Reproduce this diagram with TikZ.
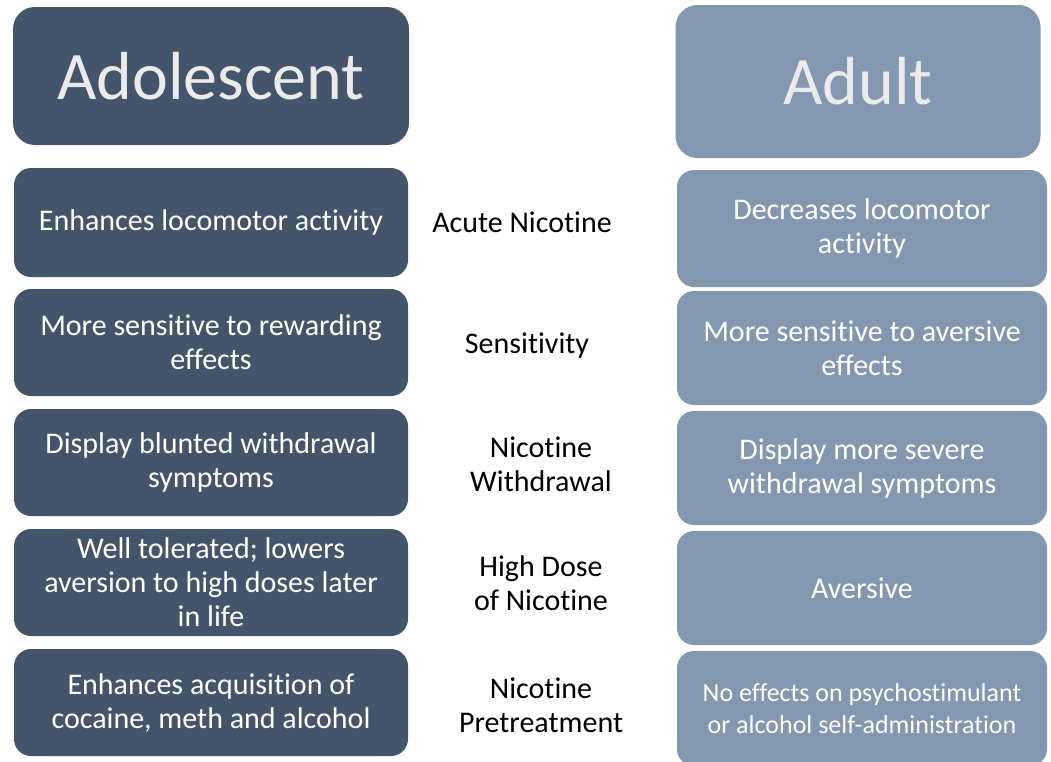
\documentclass[tikz,border=0pt]{standalone}
\usepackage{fontspec}
\setmainfont[Ligatures=NoCommon]{Carlito}
\usetikzlibrary{positioning}
\definecolor{adol}{HTML}{44546A}
\definecolor{adul}{HTML}{8497B0}
\definecolor{titletext}{HTML}{EBEBEB}

\begin{document}
\begin{tikzpicture}[x=1pt, y=-1pt]
\tikzstyle{box}=[rounded corners=17pt, inner sep=0pt, align=center, text=white, font=\fontsize{30}{34}\selectfont]
\tikzstyle{teen}=[box, fill=adol, minimum width=394pt, minimum height=107pt]
\tikzstyle{grown}=[box, fill=adul, minimum width=370pt, minimum height=114pt]
\tikzstyle{head}=[box, rounded corners=22pt, text=titletext, font=\fontsize{68}{80}\selectfont]
\tikzstyle{lbl}=[align=center, font=\fontsize{30}{34}\selectfont]
\useasboundingbox (0,0) rectangle (1051,761);
\node[head, fill=adol, minimum width=396pt, minimum height=138pt] (adolescent) at (211,76) {Adolescent};
\node[head, fill=adul, minimum width=365pt, minimum height=153pt] (adult) at (858,81.5) {Adult};
% adolescent column
\node[teen, minimum height=109pt] (teen1) at (211,222.5) {Enhances locomotor activity};
\node[teen] (teen2) at (211,342.5) {More sensitive to rewarding\\effects};
\node[teen] (teen3) at (211,462.5) {Display blunted withdrawal\\symptoms};
\node[teen] (teen4) at (211,582.5) {Well tolerated; lowers\\aversion to high doses later\\in life};
\node[teen] (teen5) at (211,702.5) {Enhances acquisition of\\cocaine, meth and alcohol};
% middle labels
\node[lbl] (acute) at (522,222) {Acute Nicotine};
\node[lbl] (sens) at (527,346) {Sensitivity};
\node[lbl] (withdr) at (541,464) {Nicotine\\Withdrawal};
\node[lbl] (highdose) at (541,583) {High Dose\\of Nicotine};
\node[lbl] (pretreat) at (541,705) {Nicotine\\Pretreatment};
% adult column
\node[grown, minimum height=117pt] (grown1) at (862,228.5) {Decreases locomotor\\activity};
\node[grown] (grown2) at (862,348) {More sensitive to aversive\\effects};
\node[grown] (grown3) at (862,468) {Display more severe\\withdrawal symptoms};
\node[grown] (grown4) at (862,588) {Aversive};
\node[grown, minimum height=115pt, font=\fontsize{26}{32}\selectfont] (grown5) at (862,708.5) {No effects on psychostimulant\\or alcohol self-administration};
\end{tikzpicture}
\end{document}
